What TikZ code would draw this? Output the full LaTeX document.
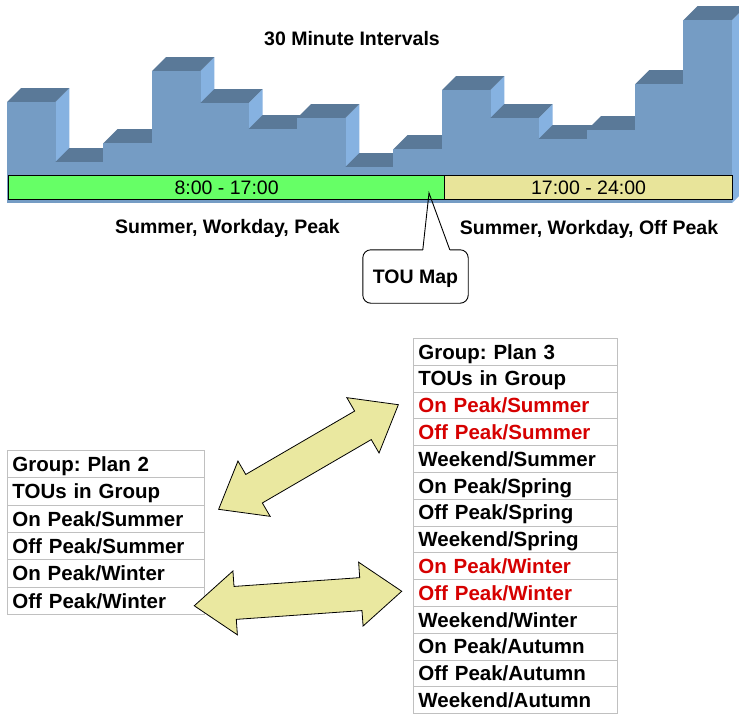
\documentclass[tikz,border=0pt]{standalone}
\usepackage{fontspec}
\setmainfont{Liberation Sans}
\usetikzlibrary{calc}
\definecolor{barfront}{RGB}{117,156,196}
\definecolor{bartop}{RGB}{90,121,152}
\definecolor{barside}{RGB}{134,178,225}
\definecolor{peakgreen}{RGB}{102,255,102}
\definecolor{offyellow}{RGB}{232,228,154}
\definecolor{arrowfill}{RGB}{234,232,160}
\definecolor{tablegray}{RGB}{192,192,192}
\definecolor{toured}{RGB}{214,0,0}
\frenchspacing
\begin{document}
\frenchspacing
\begin{tikzpicture}[x=1pt,y=-1pt,
  lbl/.style={font=\fontsize{19.5}{22}\selectfont\bfseries, inner sep=0pt, text height=14pt, text depth=0pt},
  tl/.style={draw=black, line width=1.2pt, anchor=north west, minimum height=24pt, inner sep=0pt,
             font=\fontsize{19.5}{22}\selectfont, text height=14pt, text depth=0pt},
  cell/.style={draw=tablegray, line width=0.8pt, anchor=north west, align=left, inner xsep=5pt, inner ysep=0pt,
               text height=14.7pt, text depth=0pt, font=\fontsize{20.5}{22}\selectfont\bfseries\frenchspacing},
  cellL/.style={cell, minimum width=197pt, text width=187pt, minimum height=27.33pt},
  cellR/.style={cell, minimum width=204pt, text width=194pt, minimum height=26.8pt},
  dblarrow/.pic={\draw[fill=arrowfill, line width=0.8pt, line join=miter]
     (-104,0) -- (-63,-32) -- (-63,-16.5) -- (63,-16.5) -- (63,-32) -- (104,0)
     -- (63,32) -- (63,16.5) -- (-63,16.5) -- (-63,32) -- cycle;}
]
\useasboundingbox (0,0) rectangle (739,713);
\fill[white] (0,0) rectangle (739,713);
\begin{scope}
\clip (0,0) rectangle (739,713);
% bars
\foreach \i/\t in {1/102,2/162,3/143,4/71,5/103,6/129,7/118,8/167,9/149,10/90,11/118,12/139,13/130,14/84,15/20} {
  \pgfmathsetmacro\xl{7+48.333*(\i-1)}
  \pgfmathsetmacro\xr{\xl+48.333}
  \fill[barside] (\xr,\t) -- (\xr+14,\t-14) -- (\xr+14,189) -- (\xr,203) -- cycle;
  \fill[bartop] (\xl,\t) -- (\xl+14,\t-14) -- (\xr+14,\t-14) -- (\xr,\t) -- cycle;
  \fill[barfront] (\xl-0.3,\t) rectangle (\xr+0.3,203);
}
% timeline strip
\node[tl, fill=peakgreen, minimum width=436pt] (peak) at (8,175) {8:00 - 17:00};
\node[tl, fill=offyellow, minimum width=288pt] (offpeak) at (444,175) {17:00 - 24:00};
% labels
\node[lbl] (title) at (352,38.5) {30 Minute Intervals};
\node[lbl] (lpeak) at (227.5,226) {Summer, Workday, Peak};
\node[lbl] (loff) at (589,227) {Summer, Workday, Off Peak};
% callout
\node[lbl, minimum width=105pt, minimum height=53pt, text height=14pt] (tou) at (415.5,276.5) {TOU Map};
\coordinate (tip) at (429,193);
\draw[line width=0.9pt, rounded corners=8pt] ($(tou.north west)+(60,0)$) -- (tou.north west) -- (tou.south west)
   -- (tou.south east) -- (tou.north east) -- ($(tou.north west)+(87,0)$);
\draw[line width=0.9pt] ($(tou.north west)+(60,0)$) -- (tip) -- ($(tou.north west)+(87,0)$);
% left table
\foreach \k/\txt in {1/{Group: Plan 2}, 2/{TOUs in Group}, 3/{On Peak/Summer}, 4/{Off Peak/Summer}, 5/{On Peak/Winter}, 6/{Off Peak/Winter}} {
  \node[cellL] (L\k) at (7,{450+27.33*(\k-1)}) {\txt};
}
% right table
\foreach \k/\txt/\col in {1/{Group: Plan 3}/black, 2/{TOUs in Group}/black, 3/{On Peak/Summer}/toured, 4/{Off Peak/Summer}/toured,
   5/{Weekend/Summer}/black, 6/{On Peak/Spring}/black, 7/{Off Peak/Spring}/black, 8/{Weekend/Spring}/black,
   9/{On Peak/Winter}/toured, 10/{Off Peak/Winter}/toured, 11/{Weekend/Winter}/black, 12/{On Peak/Autumn}/black,
   13/{Off Peak/Autumn}/black, 14/{Weekend/Autumn}/black} {
  \node[cellR, text=\col] (R\k) at (413,{338+26.8*(\k-1)}) {\txt};
}
% block arrows
\pic[rotate=30.2] (arrowup) at (308.5,457) {dblarrow};
\pic[rotate=4] (arrowlow) at (298,598.5) {dblarrow};
\end{scope}
\end{tikzpicture}
\end{document}
